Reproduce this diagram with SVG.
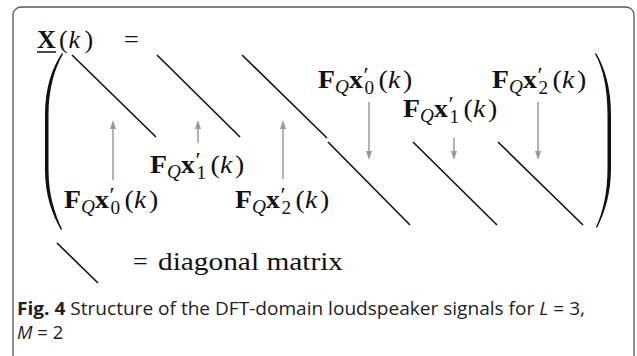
<svg xmlns="http://www.w3.org/2000/svg" width="637" height="356" viewBox="0 0 637 356">
<style>
.m{font-family:"Liberation Serif","DejaVu Serif",serif;font-size:26px;fill:#111}
.b{font-weight:bold}
.i{font-style:italic}
.s{font-size:18px}
.p{font-size:22px}
.diag{stroke:#111;stroke-width:1.6;fill:none}
.arr{stroke:#9a9a9a;stroke-width:1.5;fill:none;marker-end:url(#ah)}
.cap{font-family:"Open Sans","Noto Sans","DejaVu Sans",sans-serif;font-size:18.5px;fill:#222}
</style>
<defs>
<marker id="ah" markerUnits="userSpaceOnUse" markerWidth="10" markerHeight="7" refX="0" refY="3" orient="auto">
<path d="M0,0 L9,3 L0,6 z" fill="#9a9a9a"/>
</marker>
<g id="lab">
<text class="m b" x="0" y="0">F</text>
<text class="m i s" x="16" y="5">Q</text>
<text class="m b" x="29" y="0">x</text>
<text class="m p" x="42.5" y="-6">′</text>
<text class="m" x="56.5" y="0">(</text>
<text class="m i" x="65.5" y="0">k</text>
<text class="m" x="79.5" y="0">)</text>
</g>
</defs>
<rect x="13" y="7" width="621" height="420" rx="8" fill="none" stroke="#555" stroke-width="1.3"/>

<g id="lhs">
<text class="m b" x="37" y="48">X</text>
<line x1="37" y1="52" x2="56" y2="52" stroke="#111" stroke-width="1.5"/>
<text class="m" x="59" y="48">(</text>
<text class="m i" x="68.5" y="48">k</text>
<text class="m" x="84.5" y="48">)</text>
<text class="m" x="124" y="48">=</text>
</g>

<g id="parens" fill="#111">
<path d="M62,53 C52,68 45,88 45,115 L45,170 C45,195 52,214 61,230 L62,229 C55,214 48.5,195 48.5,170 L48.5,115 C48.5,88 55,68 63,54 Z"/>
<path d="M596,53 C605,68 611,88 611,115 L611,168 C611,193 605,212 597,228 L596,227 C603,212 607.5,193 607.5,168 L607.5,115 C607.5,88 603,68 595,54 Z"/>
</g>

<g id="connectors">
<line class="diag" x1="72" y1="55" x2="156" y2="137"/>
<line class="diag" x1="157" y1="55" x2="240" y2="137"/>
<line class="diag" x1="242" y1="55" x2="327" y2="138"/>
<line class="diag" x1="328" y1="142" x2="410" y2="225"/>
<line class="diag" x1="413" y1="142" x2="497" y2="225"/>
<line class="diag" x1="498" y1="142" x2="583" y2="225"/>
<line class="arr" x1="113" y1="180" x2="113" y2="129"/>
<line class="arr" x1="198" y1="143" x2="198" y2="129"/>
<line class="arr" x1="283" y1="179" x2="283" y2="129"/>
<line class="arr" x1="369" y1="102" x2="369" y2="151"/>
<line class="arr" x1="454" y1="138" x2="454" y2="151"/>
<line class="arr" x1="538" y1="102" x2="538" y2="151"/>
<line class="diag" x1="57" y1="243" x2="98" y2="283"/>
</g>

<g id="n_b0" transform="translate(64,208) scale(1.07,1)">
<use href="#lab"/>
<text class="m s" x="43.5" y="6">0</text>
</g>
<g id="n_b1" transform="translate(150,173) scale(1.07,1)">
<use href="#lab"/>
<text class="m s" x="43.5" y="6">1</text>
</g>
<g id="n_b2" transform="translate(235,208) scale(1.07,1)">
<use href="#lab"/>
<text class="m s" x="43.5" y="6">2</text>
</g>
<g id="n_t0" transform="translate(318,88) scale(1.07,1)">
<use href="#lab"/>
<text class="m s" x="43.5" y="6">0</text>
</g>
<g id="n_t1" transform="translate(403,117) scale(1.07,1)">
<use href="#lab"/>
<text class="m s" x="43.5" y="6">1</text>
</g>
<g id="n_t2" transform="translate(492,88) scale(1.07,1)">
<use href="#lab"/>
<text class="m s" x="43.5" y="6">2</text>
</g>

<g id="legend">
<text class="m" x="133" y="270">=</text>
<text class="m" x="158" y="270" textLength="185" lengthAdjust="spacingAndGlyphs">diagonal matrix</text>
</g>

<g id="caption">
<text class="cap" x="17" y="315" textLength="568" lengthAdjust="spacingAndGlyphs"><tspan font-weight="bold">Fig. 4</tspan> Structure of the DFT-domain loudspeaker signals for <tspan font-style="italic">L</tspan> = 3,</text>
<text class="cap" x="17" y="339"><tspan font-style="italic">M</tspan> = 2</text>
</g>
</svg>
